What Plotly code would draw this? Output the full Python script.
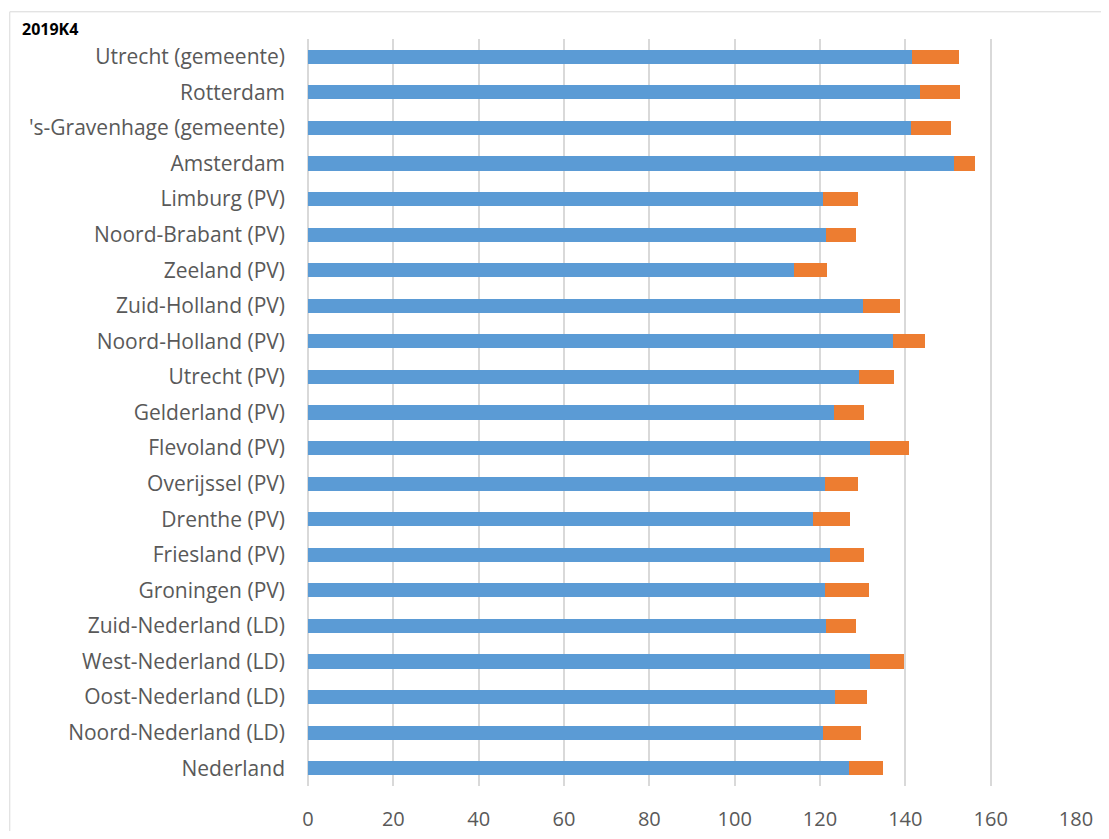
import plotly.graph_objects as go

categories = [
    "Nederland", "Noord-Nederland (LD)", "Oost-Nederland (LD)", "West-Nederland (LD)",
    "Zuid-Nederland (LD)", "Groningen (PV)", "Friesland (PV)", "Drenthe (PV)",
    "Overijssel (PV)", "Flevoland (PV)", "Gelderland (PV)", "Utrecht (PV)",
    "Noord-Holland (PV)", "Zuid-Holland (PV)", "Zeeland (PV)", "Noord-Brabant (PV)",
    "Limburg (PV)", "Amsterdam", "'s-Gravenhage (gemeente)", "Rotterdam",
    "Utrecht (gemeente)",
]
blue_values = [126.8, 120.7, 123.5, 131.7, 121.3, 121.2, 122.4, 118.4, 121.2, 131.7,
               123.2, 129.2, 137.1, 130.1, 113.8, 121.4, 120.7, 151.4, 141.4, 143.4, 141.6]
orange_values = [7.9, 8.9, 7.5, 8.0, 7.2, 10.2, 7.9, 8.7, 7.6, 9.2,
                 7.1, 8.2, 7.4, 8.6, 7.9, 7.1, 8.2, 5.0, 9.3, 9.4, 10.9]
x_ticks = [0, 20, 40, 60, 80, 100, 120, 140, 160, 180]
title_text = "2019K4"

fig = go.Figure()
fig.add_trace(go.Bar(y=categories, x=blue_values, orientation="h",
                     marker=dict(color="#5B9BD5", line=dict(width=0)), name="a"))
fig.add_trace(go.Bar(y=categories, x=orange_values, orientation="h",
                     marker=dict(color="#ED7D31", line=dict(width=0)), name="b"))

W, H = 1093, 823
L, R, T, B = 300.3, 24.5, 31.2, 45.2
pw, ph = W - L - R, H - T - B

font_family = "Open Sans, Noto Sans, sans-serif"
fig.update_layout(
    barmode="stack",
    bargap=0.6,
    width=W, height=H,
    margin=dict(l=L, r=R, t=T, b=B, pad=0),
    plot_bgcolor="white", paper_bgcolor="white",
    showlegend=False,
    font=dict(family=font_family, size=20, color="#595959"),
    xaxis=dict(range=[0, 180], tickvals=x_ticks, showgrid=True, gridcolor="#d9d9d9",
               gridwidth=1.6, zeroline=True, zerolinecolor="#d9d9d9", zerolinewidth=1.6,
               showline=False, ticks="", ticklabelstandoff=19, automargin=False,
               tickfont=dict(size=20, color="#595959")),
    yaxis=dict(showgrid=False, zeroline=False, showline=False, ticks="",
               ticklabelstandoff=22, automargin=False,
               tickfont=dict(size=21, color="#595959"),
               categoryorder="array", categoryarray=categories),
)
fig.add_shape(type="rect", xref="paper", yref="paper",
              x0=(2 - L) / pw, x1=1.2, y0=-0.2, y1=1 + (T - 4) / ph,
              line=dict(color="#d9d9d9", width=1), layer="below")
fig.add_annotation(text="<b>" + title_text + "</b>", xref="paper", yref="paper",
                   x=(12 - L) / pw, y=1 + (T - 8) / ph, xanchor="left", yanchor="top",
                   showarrow=False, font=dict(size=16, color="#000000", family=font_family))
fig.write_html("out.html")
